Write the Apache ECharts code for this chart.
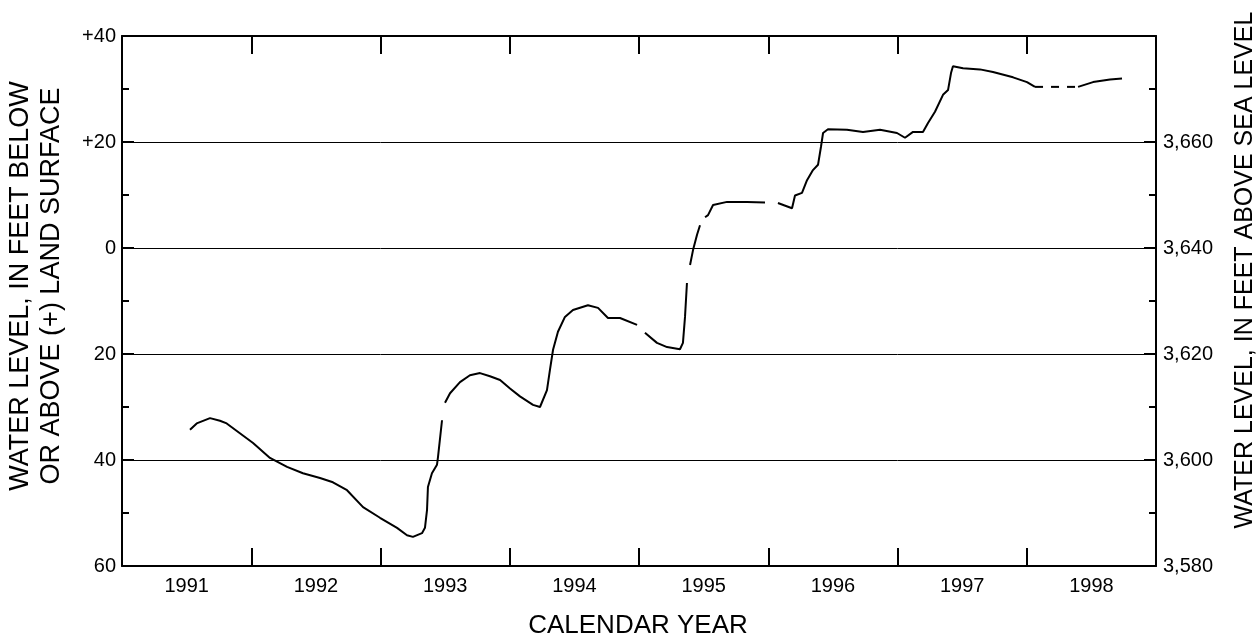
<!DOCTYPE html>
<html>
<head>
<meta charset="utf-8">
<script src="https://cdn.jsdelivr.net/npm/echarts@6/dist/echarts.min.js"></script>
<style>
html,body{margin:0;padding:0;background:#fff;}
#chart{width:1259px;height:638px;}
</style>
</head>
<body>
<div id="chart"></div>
<script>
// Decimal year of each reading (null = gap in record)
const decimalYear = [
  1991.526, 1991.578, 1991.681, 1991.758, 1991.810, 1992.014, 1992.145, 1992.277,
  1992.400, 1992.532, 1992.632, 1992.741, 1992.865, 1992.996, 1993.128, 1993.205,
  1993.251, 1993.321, 1993.344, 1993.360, 1993.367, 1993.398, 1993.437, 1993.445,
  1993.476, null,
  1993.499, 1993.538, 1993.615, 1993.692, 1993.770, 1993.847, 1993.925, 1994.002,
  1994.079, 1994.180, 1994.234, 1994.288, 1994.311, 1994.335, 1994.373, 1994.427,
  1994.489, 1994.605, 1994.683, 1994.760, 1994.853, 1994.985, null,
  1995.046, 1995.139, 1995.217, 1995.317, 1995.340, 1995.356, 1995.371, null,
  1995.395, 1995.418, 1995.449, 1995.472, null,
  1995.511, 1995.534, 1995.573, 1995.681, 1995.836, 1995.975, null,
  1996.075, 1996.184, 1996.207, 1996.261, 1996.300, 1996.346, 1996.385, 1996.408,
  1996.424, 1996.462, 1996.609, 1996.733, 1996.865, 1996.996, 1997.058, 1997.120,
  1997.197, 1997.236, 1997.290, 1997.352, 1997.391, 1997.414, 1997.429, 1997.507,
  1997.638, 1997.739, 1997.894, 1998.002, 1998.064, null,
  1998.397, 1998.513, 1998.644, 1998.737
];
// Water level, feet below land surface (negative = above land surface)
const depthFt = [
  34.3, 33.1, 32.1, 32.6, 33.1, 36.8, 39.6, 41.3,
  42.5, 43.4, 44.2, 45.7, 48.9, 50.9, 52.8, 54.2,
  54.5, 53.8, 52.8, 49.4, 45.1, 42.5, 40.9, 39.4,
  32.5, null,
  29.2, 27.4, 25.3, 24.0, 23.6, 24.2, 24.9, 26.5,
  28.0, 29.6, 30.0, 26.8, 23.0, 19.2, 15.8, 13.0,
  11.7, 10.8, 11.3, 13.2, 13.2, 14.5, null,
  16.0, 17.9, 18.7, 19.1, 17.9, 13.0, 6.6, null,
  3.2, 0.4, -2.5, -4.3, null,
  -5.8, -6.2, -8.1, -8.7, -8.7, -8.6, null,
  -8.5, -7.5, -9.9, -10.4, -12.8, -14.7, -15.7, -19.1,
  -21.7, -22.4, -22.3, -21.9, -22.3, -21.7, -20.8, -21.9,
  -21.9, -23.6, -25.7, -28.9, -29.8, -33.0, -34.3, -33.9,
  -33.7, -33.2, -32.2, -31.3, -30.4, null,
  -30.4, -31.3, -31.8, -32.0
];
// Estimated (dashed) part of the record
const estYear = [1998.064, 1998.397];
const estDepthFt = [-30.4, -30.4];

const yearTicks = [1992, 1993, 1994, 1995, 1996, 1997, 1998];
const yearLabelPos = [1991.5, 1992.5, 1993.5, 1994.5, 1995.5, 1996.5, 1997.5, 1998.5];

const mainData = decimalYear.map((y, i) => (y === null ? [null, null] : [y, depthFt[i]]));
const estData = estYear.map((y, i) => [y, estDepthFt[i]]);

const FONT = "'Liberation Sans', Arial, sans-serif";
const chart = echarts.init(document.getElementById('chart'), null, {renderer: 'canvas'});

const lineStyle = {color: '#000', width: 2};
chart.setOption({
  animation: false,
  backgroundColor: '#fff',
  grid: {left: 122, right: 103, top: 36, bottom: 72, containLabel: false},
  xAxis: [
    {
      type: 'value', position: 'bottom', min: 1991, max: 1999,
      axisLine: {show: true, onZero: false, lineStyle: lineStyle},
      axisTick: {show: true, inside: true, length: 18, customValues: yearTicks, lineStyle: {color: '#000', width: 2}},
      axisLabel: {show: true, customValues: yearLabelPos, formatter: v => String(Math.floor(v)),
        color: '#000', fontFamily: FONT, fontSize: 20, margin: 10},
      splitLine: {show: false}
    },
    {
      type: 'value', position: 'top', min: 1991, max: 1999,
      axisLine: {show: true, onZero: false, lineStyle: lineStyle},
      axisTick: {show: true, inside: true, length: 18, customValues: yearTicks, lineStyle: {color: '#000', width: 2}},
      axisLabel: {show: false},
      splitLine: {show: false}
    }
  ],
  yAxis: [
    {
      type: 'value', position: 'left', min: -40, max: 60, interval: 20, inverse: true,
      axisLine: {show: true, onZero: false, lineStyle: lineStyle},
      axisTick: {show: true, inside: true, length: 12, lineStyle: {color: '#000', width: 2}},
      minorTick: {show: true, splitNumber: 2, length: 7, lineStyle: {color: '#000', width: 2}},
      axisLabel: {color: '#000', fontFamily: FONT, fontSize: 20, margin: 6,
        formatter: v => (v < 0 ? '+' + (-v) : String(v))},
      splitLine: {show: true, lineStyle: {color: '#000', width: 1}}
    },
    {
      type: 'value', position: 'right', min: 3580, max: 3680, interval: 20,
      axisLine: {show: true, onZero: false, lineStyle: lineStyle},
      axisTick: {show: true, inside: true, length: 12, lineStyle: {color: '#000', width: 2}},
      minorTick: {show: true, splitNumber: 2, length: 7, lineStyle: {color: '#000', width: 2}},
      axisLabel: {color: '#000', fontFamily: FONT, fontSize: 20, margin: 7, showMaxLabel: false,
        formatter: v => (v >= 3680 ? '' : v.toLocaleString('en-US'))},
      splitLine: {show: false}
    }
  ],
  series: [
    {
      type: 'line', xAxisIndex: 0, yAxisIndex: 0, data: mainData,
      showSymbol: false, connectNulls: false, silent: true,
      lineStyle: {color: '#000', width: 2}
    },
    {
      type: 'line', xAxisIndex: 0, yAxisIndex: 0, data: estData,
      showSymbol: false, silent: true,
      lineStyle: {color: '#000', width: 2, type: [8, 8]}
    }
  ],
  graphic: [
    {type: 'text', x: 21, y: 286, rotation: Math.PI / 2,
      style: {text: 'WATER LEVEL, IN FEET BELOW', font: '27px ' + FONT, fill: '#000', align: 'center', verticalAlign: 'middle'}},
    {type: 'text', x: 52, y: 286, rotation: Math.PI / 2,
      style: {text: 'OR ABOVE (+) LAND SURFACE', font: '27px ' + FONT, fill: '#000', align: 'center', verticalAlign: 'middle'}},
    {type: 'text', x: 1245, y: 270, rotation: Math.PI / 2,
      style: {text: 'WATER LEVEL, IN FEET ABOVE SEA LEVEL', font: '25px ' + FONT, fill: '#000', align: 'center', verticalAlign: 'middle'}},
    {type: 'text', x: 638, y: 626,
      style: {text: 'CALENDAR YEAR', font: '26px ' + FONT, fill: '#000', align: 'center', verticalAlign: 'middle'}}
  ]
});
</script>
</body>
</html>
